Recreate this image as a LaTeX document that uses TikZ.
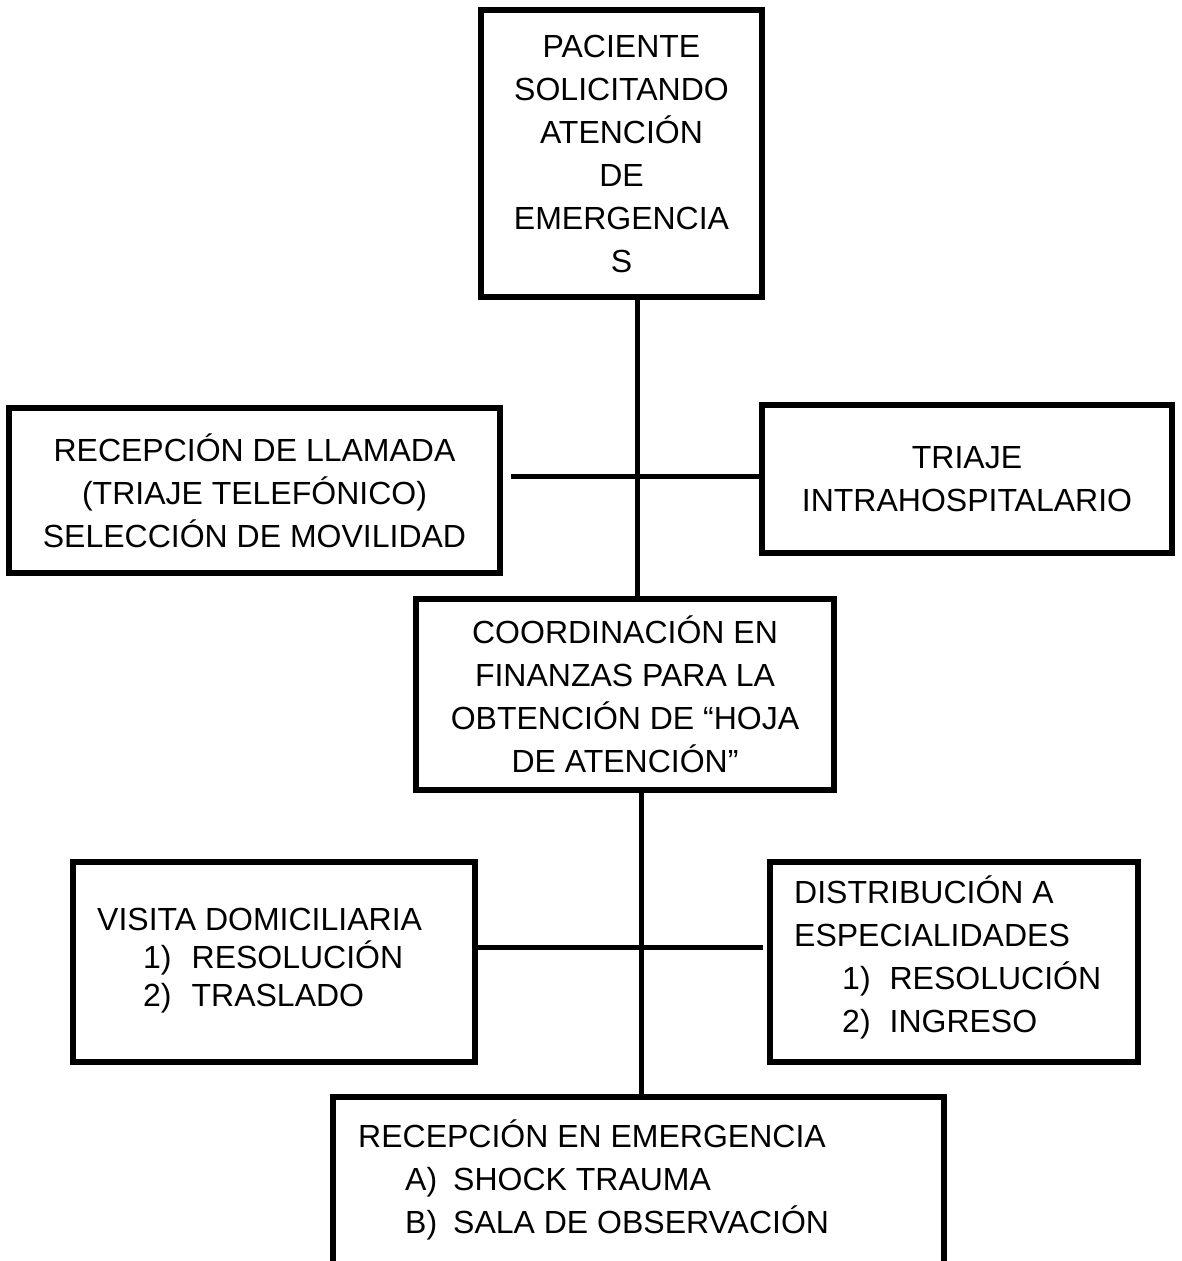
\documentclass[tikz,border=0pt]{standalone}
\usepackage{fontspec}
\setmainfont{Liberation Sans}
\begin{document}
\begin{tikzpicture}[x=1pt,y=-1pt,
  box/.style={draw, line width=5.5pt, inner sep=0pt, align=center, font=\fontsize{32}{43}\selectfont},
  txt/.style={inner sep=0pt, align=left, anchor=west, font=\fontsize{32}{43}\selectfont},
  link/.style={line width=5pt}]
\useasboundingbox[fill=white] (0,0) rectangle (1182,1261);

\node[box, minimum width=281, minimum height=287] (A) at (621.5,153.5)
  {PACIENTE\\SOLICITANDO\\ATENCIÓN\\DE\\EMERGENCIA\\S};
\node[box, minimum width=491, minimum height=165] (B) at (254.5,490.5)
  {RECEPCIÓN DE LLAMADA\\(TRIAJE TELEFÓNICO)\\SELECCIÓN DE MOVILIDAD};
\node[box, minimum width=410, minimum height=148] (C) at (967,479)
  {TRIAJE\\INTRAHOSPITALARIO};
\node[box, minimum width=418, minimum height=191] (D) at (625,694.5)
  {COORDINACIÓN EN\\FINANZAS PARA LA\\OBTENCIÓN DE “HOJA\\DE ATENCIÓN”};
\node[box, minimum width=402, minimum height=200] (E) at (274,962) {};
\node[box, minimum width=368, minimum height=200] (F) at (954,962) {};
\node[box, minimum width=611, minimum height=183] (G) at (638.5,1188.5) {};

\node[txt, font=\fontsize{32}{38}\selectfont] (Et) at (97,961)
  {VISITA DOMICILIARIA\\\hspace*{46pt}1)\hspace{20pt}RESOLUCIÓN\\\hspace*{46pt}2)\hspace{20pt}TRASLADO};
\node[txt] (Ft) at (794,957)
  {DISTRIBUCIÓN A\\ESPECIALIDADES\\\hspace*{48pt}1)\hspace{19pt}RESOLUCIÓN\\\hspace*{48pt}2)\hspace{19pt}INGRESO};
\node[txt] (Gt) at (358,1180)
  {RECEPCIÓN EN EMERGENCIA\\\hspace*{47pt}A)\hspace{16pt}SHOCK TRAUMA\\\hspace*{47pt}B)\hspace{16pt}SALA DE OBSERVACIÓN};

\coordinate (x1) at (637,476);
\coordinate (x2) at (641,947);
\draw[link] (A.south -| x1) -- (D.north -| x1);
\draw[link, shorten <=8pt] (B.east |- x1) -- (C.west |- x1);
\draw[link] (D.south -| x2) -- (G.north -| x2);
\draw[link, shorten >=4pt] (E.east |- x2) -- (F.west |- x2);
\end{tikzpicture}
\end{document}
